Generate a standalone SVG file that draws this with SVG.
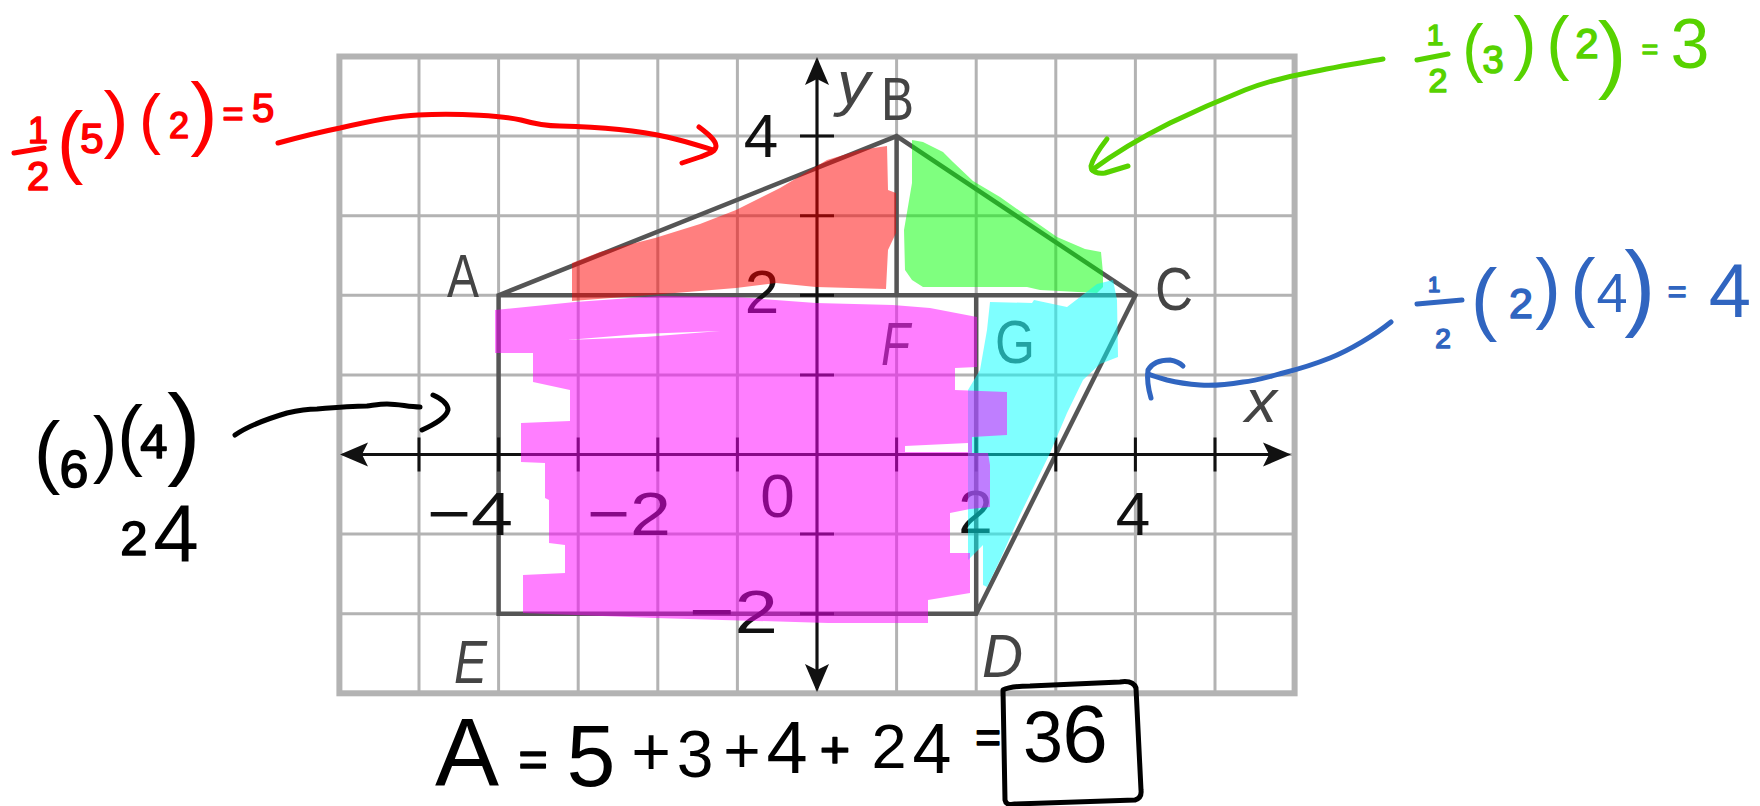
<svg xmlns="http://www.w3.org/2000/svg" width="1760" height="806" viewBox="0 0 1760 806">
<defs>
<style>
.grid{stroke:#b3b3b3;stroke-width:3;fill:none}
.frame{stroke:#b3b3b3;stroke-width:6;fill:none}
.fig{stroke:#555;stroke-width:4.5;fill:none;stroke-linejoin:miter}
.axis{stroke:#111;stroke-width:3;fill:none}
.lbl{font-family:"Liberation Sans",Arial,sans-serif;font-size:62px;fill:#444}
.num{font-family:"Liberation Sans",Arial,sans-serif;font-size:62px;fill:#111}
.it{font-style:italic}
.hl{opacity:.5}
.hw{font-family:"Liberation Sans",Arial,sans-serif;stroke-width:0;stroke-linejoin:round;text-anchor:middle}
.s{stroke-width:1.6}
.ink{fill:none;stroke-width:5;stroke-linecap:round;stroke-linejoin:round}
.cr{fill:#ff0000;stroke:#ff0000}
.cg{fill:#57d200;stroke:#57d200}
.cb{fill:#3065c0;stroke:#3065c0}
.ck{fill:#000;stroke:#000}
.sr{stroke:#ff0000}
.sg{stroke:#57d200}
.sb{stroke:#3065c0}
.sk{stroke:#000}
</style>
<marker id="ax" markerUnits="userSpaceOnUse" markerWidth="30" markerHeight="26" refX="24" refY="13" orient="auto-start-reverse">
<path d="M0,1 L28,13 L0,25 L6,13 Z" fill="#111"/>
</marker>
<mask id="streaks" maskUnits="userSpaceOnUse" x="0" y="0" width="1760" height="806">
<rect width="1760" height="806" fill="#fff"/>
<path d="M567,340 L640,334 L720,331 L645,337 Z M905,446 L968,443 L968,452 L905,452 Z" fill="#000"/>
</mask>
</defs>
<rect width="1760" height="806" fill="#fff"/>

<g id="grid">
<path class="grid" d="M419,56.5V693.3 M498.6,56.5V693.3 M578.2,56.5V693.3 M657.8,56.5V693.3 M737.4,56.5V693.3 M817,56.5V693.3 M896.6,56.5V693.3 M976.2,56.5V693.3 M1055.8,56.5V693.3 M1135.4,56.5V693.3 M1215,56.5V693.3 M339.4,136.1H1294.6 M339.4,215.7H1294.6 M339.4,295.3H1294.6 M339.4,374.9H1294.6 M339.4,454.5H1294.6 M339.4,534.1H1294.6 M339.4,613.7H1294.6"/>
<rect class="frame" x="339.4" y="56.5" width="955.2" height="636.8"/>
</g>

<g id="figure">
<path class="fig" d="M498.6,295.3 L896.6,136.1 L1135.4,295.3 L976.2,613.7 L498.6,613.7 Z M498.6,295.3 H1135.4 M896.6,136.1 V295.3 M976.2,295.3 V613.7"/>
</g>

<g id="axes">
<line class="axis" x1="344" y1="454.5" x2="1287" y2="454.5" marker-start="url(#ax)" marker-end="url(#ax)"/>
<line class="axis" x1="817" y1="61" x2="817" y2="688" marker-start="url(#ax)" marker-end="url(#ax)"/>
<path class="axis" d="M419,437.5V471.5 M498.6,437.5V471.5 M578.2,437.5V471.5 M657.8,437.5V471.5 M737.4,437.5V471.5 M896.6,437.5V471.5 M976.2,437.5V471.5 M1055.8,437.5V471.5 M1135.4,437.5V471.5 M1215,437.5V471.5 M800,136.1H834 M800,215.7H834 M800,295.3H834 M800,374.9H834 M800,534.1H834 M800,613.7H834"/>
</g>

<g id="labels">
<text class="lbl" x="447" y="297" textLength="32" lengthAdjust="spacingAndGlyphs">A</text>
<text class="lbl" x="881" y="120" textLength="33" lengthAdjust="spacingAndGlyphs">B</text>
<text class="lbl" x="1155" y="310" textLength="38" lengthAdjust="spacingAndGlyphs">C</text>
<text class="lbl it" x="982" y="677" textLength="41" lengthAdjust="spacingAndGlyphs">D</text>
<text class="lbl it" x="454" y="683" textLength="33" lengthAdjust="spacingAndGlyphs">E</text>
<text class="lbl it" x="881" y="365" textLength="29" lengthAdjust="spacingAndGlyphs">F</text>
<text class="lbl" x="995" y="363" textLength="40" lengthAdjust="spacingAndGlyphs">G</text>
<text class="lbl it" x="837" y="104" textLength="33" lengthAdjust="spacingAndGlyphs">y</text>
<text class="lbl it" x="1245" y="422" textLength="32" lengthAdjust="spacingAndGlyphs">x</text>
<text class="num" x="761" y="157" text-anchor="middle">4</text>
<text class="num" x="762" y="313" text-anchor="middle">2</text>
<text class="num" x="689" y="633" textLength="89" lengthAdjust="spacingAndGlyphs">−2</text>
<text class="num" x="427" y="535" textLength="86" lengthAdjust="spacingAndGlyphs">−4</text>
<text class="num" x="587" y="535" textLength="84" lengthAdjust="spacingAndGlyphs">−2</text>
<text class="num" x="777.5" y="517" text-anchor="middle">0</text>
<text class="num" x="975.5" y="533" text-anchor="middle">2</text>
<text class="num" x="1133" y="535" text-anchor="middle">4</text>
</g>

<g id="highlights">
<path id="hl-red" class="hl" fill="#ff0000" d="M572,263 L600,252 L655,238 L700,224 L736,210 L780,188 L827,160 L860,150 L887,146 L888,190 L896,193 L896,233 L888,250 L886,289 L816,287 L776,283 L736,288 L663,294 L572,301 Z"/>
<path id="hl-green" class="hl" fill="#00ff00" d="M912,140 L923,142 L943,152 L953,162 L973,181 L1000,197 L1057,237 L1085,249 L1101,252 L1103,273 L1103,287 L1097,293 L1040,290 L1027,287 L923,287 L912,280 L905,270 L904,230 L912,183 L912,163 Z"/>
<path id="hl-cyan" class="hl" fill="#00ffff" d="M990,302 L1032,303 L1034,300 L1067,307 L1080,297 L1097,284 L1113,280 L1117,300 L1118,357 L1100,364 L1083,380 L1067,413 L1050,453 L1020,515 L1000,560 L987,587 L983,585 L983,545 L968,560 L968,390 L980,370 L987,330 Z"/>
<path id="hl-magenta" class="hl" fill="#ff00ff" mask="url(#streaks)" d="M495,310 L575,302 L659,296 L736,297 L816,303 L893,305 L930,308 L977,317 L977,367 L955,368 L955,390 L1007,392 L1007,435 L972,437 L972,453 L988,453 L990,465 L990,507 L970,509 L950,513 L950,553 L970,553 L970,593 L928,600 L928,623 L828,623 L655,618 L523,613 L523,575 L565,573 L565,545 L549,543 L549,500 L545,498 L545,463 L521,462 L521,423 L570,421 L570,390 L533,382 L533,353 L495,353 Z"/>
</g>

<g id="connectors">
<path class="ink sr" d="M278,143 C300,137 320,132 340,128 C370,121 395,116 418,115 C460,113 505,116 521,120 C535,124 545,126 560,126 C600,127 640,131 667,137 C685,141 700,146 713,150"/>
<path class="ink sr" d="M699,127 C707,133 716,140 716,146 C716,152 708,154 700,157 L682,163"/>
<path class="ink sg" d="M1383,59 C1360,63 1335,67 1307,73 C1285,77 1263,83 1245,90 C1220,100 1195,111 1170,123 C1140,138 1115,153 1092,170"/>
<path class="ink sg" d="M1107,139 C1100,148 1093,158 1091,166 C1091,172 1098,174 1105,173 L1128,166"/>
<path class="ink sb" d="M1391,322 C1375,335 1350,350 1330,358 C1310,366 1295,370 1283,373 C1265,378 1255,381 1243,382 C1225,385 1212,386 1200,385 C1185,384 1175,382 1167,380 C1160,378 1153,376 1148,374"/>
<path class="ink sb" d="M1151,398 C1148,388 1147,378 1148,370 C1152,363 1160,360 1170,360 C1176,361 1180,363 1183,366"/>
<path class="ink sk" d="M235,435 C245,428 260,421 287,413 C300,410 310,409 317,409 C340,407 355,406 367,406 C375,405 380,404 387,404 C400,404 408,407 420,407"/>
<path class="ink sk" d="M433,395 C442,399 448,404 448,410 C446,418 435,424 422,430"/>
</g>

<g id="note-red">
<line class="ink sr" x1="14" y1="153" x2="44" y2="148"/>
<text class="hw cr"><tspan class="s" x="38" y="143" font-size="36">1</tspan><tspan class="s" x="38" y="190" font-size="40">2</tspan><tspan x="70" y="168" font-size="80">(</tspan><tspan class="s" x="92" y="153" font-size="42">5</tspan><tspan x="116" y="144" font-size="75">)</tspan><tspan x="150" y="141" font-size="66">(</tspan><tspan class="s" x="179" y="138" font-size="36">2</tspan><tspan x="204" y="140" font-size="82">)</tspan><tspan class="s" x="233" y="126" font-size="36">=</tspan><tspan class="s" x="263" y="122" font-size="40">5</tspan></text>
</g>

<g id="note-green">
<line class="ink sg" x1="1417" y1="60" x2="1448" y2="54"/>
<text class="hw cg"><tspan class="s" x="1435" y="45" font-size="30">1</tspan><tspan class="s" x="1438" y="92" font-size="34">2</tspan><tspan x="1473" y="70" font-size="64">(</tspan><tspan class="s" x="1493" y="73" font-size="38">3</tspan><tspan x="1525" y="66" font-size="70">)</tspan><tspan x="1558" y="66" font-size="70">(</tspan><tspan class="s" x="1587" y="58" font-size="42">2</tspan><tspan x="1612" y="82" font-size="86">)</tspan><tspan class="s" x="1650" y="59" font-size="28">=</tspan><tspan x="1690" y="68" font-size="70">3</tspan></text>
</g>

<g id="note-blue">
<line class="ink sb" x1="1417" y1="304" x2="1462" y2="300"/>
<text class="hw cb"><tspan class="s" x="1434" y="292" font-size="22">1</tspan><tspan class="s" x="1443" y="348" font-size="28">2</tspan><tspan x="1484" y="325" font-size="80">(</tspan><tspan class="s" x="1521" y="318" font-size="43">2</tspan><tspan x="1548" y="314" font-size="77">)</tspan><tspan x="1583" y="312" font-size="76">(</tspan><tspan x="1612" y="312" font-size="56">4</tspan><tspan x="1640" y="318" font-size="94">)</tspan><tspan class="s" x="1677" y="302" font-size="32">=</tspan><tspan x="1730" y="317" font-size="76">4</tspan></text>
</g>

<g id="note-black">
<text class="hw ck"><tspan x="47" y="478" font-size="80">(</tspan><tspan class="s" x="74" y="487" font-size="52">6</tspan><tspan x="105" y="469" font-size="74">)</tspan><tspan x="130" y="461" font-size="78">(</tspan><tspan class="s" x="154" y="458" font-size="49">4</tspan><tspan x="184" y="466" font-size="102">)</tspan></text>
<text class="hw ck"><tspan class="s" x="134" y="555" font-size="49">2</tspan><tspan x="176" y="562" font-size="82">4</tspan></text>
</g>

<g id="total">
<text class="hw ck"><tspan x="467" y="785" font-size="96">A</tspan><tspan class="s" x="533" y="776" font-size="50">=</tspan><tspan x="591" y="786" font-size="88">5</tspan><tspan x="651" y="775" font-size="68">+</tspan><tspan x="695" y="777" font-size="66">3</tspan><tspan x="742" y="773" font-size="64">+</tspan><tspan x="787" y="773" font-size="74">4</tspan><tspan class="s" x="835" y="768" font-size="52">+</tspan><tspan x="889" y="768" font-size="63">2</tspan><tspan x="932" y="773" font-size="70">4</tspan><tspan class="s" x="988" y="753" font-size="44">=</tspan><tspan x="1043" y="762" font-size="72">3</tspan><tspan x="1085" y="762" font-size="82">6</tspan></text>
<path class="ink sk" d="M1003,690 L1005,800 Q1006,806 1015,804 L1135,800 Q1142,798 1141,790 L1136,688 Q1133,680 1120,682 L1030,686 Q1010,686 1003,690 Z"/>
</g>
</svg>
